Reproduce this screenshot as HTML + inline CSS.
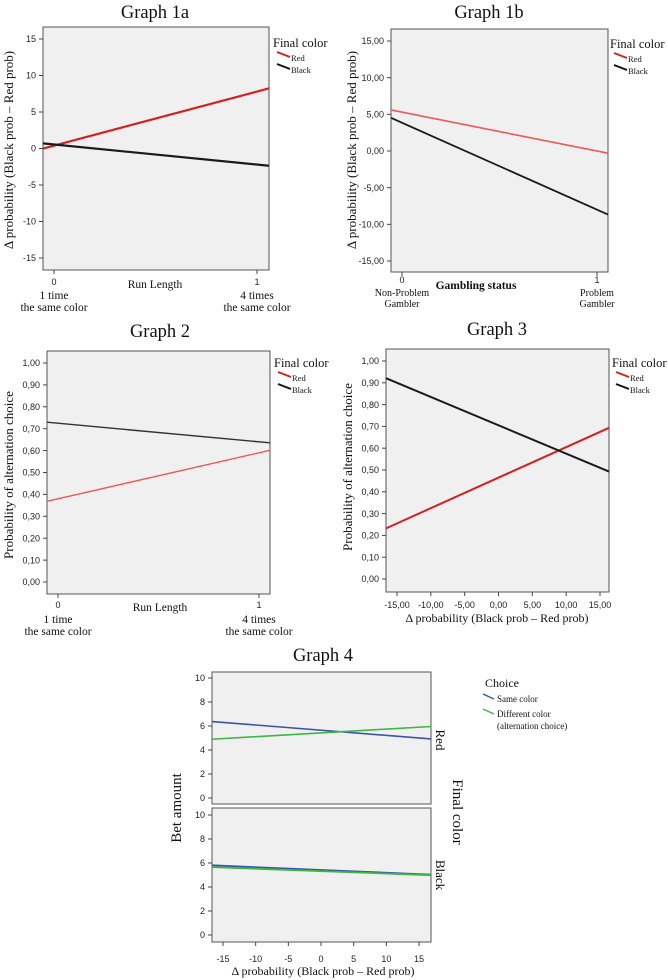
<!DOCTYPE html>
<html><head><meta charset="utf-8"><style>
html,body{margin:0;padding:0;background:#fff;}
svg{display:block;}
.t{font-family:"Liberation Sans",sans-serif;font-size:9px;fill:#222;}
.s{font-family:"Liberation Serif",serif;fill:#111;}
</style></head><body>
<svg id="fig" width="668" height="980" viewBox="0 0 668 980" xmlns="http://www.w3.org/2000/svg"></svg>
<script>
// ---- data ----
const g1aX = [0, 1];
const g1aRed = [0.4, 7.8];
const g1aBlack = [0.55, -2.2];
const g1aYTicks = [-15, -10, -5, 0, 5, 10, 15];
const g1aYLabels = ["-15", "-10", "-5", "0", "5", "10", "15"];

const g1bX = [0, 1];
const g1bRed = [5.3, 0.0];
const g1bBlack = [3.85, -8.0];
const g1bYTicks = [-15, -10, -5, 0, 5, 10, 15];
const g1bYLabels = ["-15,00", "-10,00", "-5,00", "0,00", "5,00", "10,00", "15,00"];

const g2X = [0, 1];
const g2Red = [0.38, 0.59];
const g2Black = [0.725, 0.64];
const g2YTicks = [0, 0.1, 0.2, 0.3, 0.4, 0.5, 0.6, 0.7, 0.8, 0.9, 1.0];
const g2YLabels = ["0,00", "0,10", "0,20", "0,30", "0,40", "0,50", "0,60", "0,70", "0,80", "0,90", "1,00"];

const g3X = [-15, 15];
const g3Red = [0.255, 0.675];
const g3Black = [0.90, 0.51];
const g3XTicks = [-15, -10, -5, 0, 5, 10, 15];
const g3XLabels = ["-15,00", "-10,00", "-5,00", "0,00", "5,00", "10,00", "15,00"];

const g4X = [-15, 15];
const g4RedSame = [6.3, 5.0];
const g4RedDiff = [4.95, 5.9];
const g4BlackSame = [5.77, 5.07];
const g4BlackDiff = [5.62, 5.02];
const g4YTicks = [0, 2, 4, 6, 8, 10];
const g4YLabels = ["0", "2", "4", "6", "8", "10"];
const g4XTicks = [-15, -10, -5, 0, 5, 10, 15];
const g4XLabels = ["-15", "-10", "-5", "0", "5", "10", "15"];

// ---- helpers ----
const NS = "http://www.w3.org/2000/svg";
const svg = document.getElementById("fig");
function mk(tag, attrs, parent) {
  const el = document.createElementNS(NS, tag);
  for (const k in attrs) el.setAttribute(k, attrs[k]);
  (parent || svg).appendChild(el);
  return el;
}
function txt(str, x, y, cls, size, anchor, extra) {
  const el = mk("text", Object.assign({x: x, y: y, class: cls, "font-size": size, "text-anchor": anchor || "start"}, extra || {}));
  el.textContent = str;
  return el;
}
function scale(d0, d1, p0, p1) { return v => p0 + (v - d0) * (p1 - p0) / (d1 - d0); }
function inv(d0, d1, p0, p1) { return p => d0 + (p - p0) * (d1 - d0) / (p1 - p0); }

function panel(name, box, xCal, yCal) {
  const g = mk("g", {});
  
  
  const r = mk("rect", {x: box[0], y: box[1], width: box[2] - box[0], height: box[3] - box[1], fill: "#f0f0f0", stroke: "#555", "stroke-width": 1}, g);
  
  
  const sx = scale(xCal[0], xCal[1], xCal[2], xCal[3]);
  const sy = scale(yCal[0], yCal[1], yCal[2], yCal[3]);
  const ix = inv(xCal[0], xCal[1], xCal[2], xCal[3]);
  return {g: g, box: box, sx: sx, sy: sy, xmin: ix(box[0]), xmax: ix(box[2])};
}
function yTicks(p, ticks, labels, size) {
  ticks.forEach((t, i) => {
    const y = p.sy(t);
    const tk = mk("line", {x1: p.box[0] - 4, x2: p.box[0], y1: y, y2: y, stroke: "#444", "stroke-width": 1}, p.g);
    
    
    const lb = txt(labels[i], p.box[0] - 7, y + 3.2, "t", size || 9, "end");
    
    
  });
}
function xTicks(p, ticks, labels, ly, size) {
  ticks.forEach((t, i) => {
    const x = p.sx(t);
    const tk = mk("line", {x1: x, x2: x, y1: p.box[3], y2: p.box[3] + 4, stroke: "#444", "stroke-width": 1}, p.g);
    
    
    const lb = txt(labels[i], x, ly, "t", size || 9, "middle");
    
    
  });
}
function series(p, xs, ys, color, w, name) {
  const m = (ys[1] - ys[0]) / (xs[1] - xs[0]);
  const f = x => ys[0] + m * (x - xs[0]);
  const l = mk("line", {x1: p.box[0], y1: p.sy(f(p.xmin)), x2: p.box[2], y2: p.sy(f(p.xmax)), stroke: color, "stroke-width": w}, p.g);
  
  
}
function legend(x, y, name) {
  const g = mk("g", {});
  
  
  const t = mk("text", {x: x, y: y, class: "s", "font-size": 12.5}, g); t.textContent = "Final color";
  mk("line", {x1: x + 4, y1: y + 5, x2: x + 17, y2: y + 10, stroke: "#d42020", "stroke-width": 2}, g);
  const r = mk("text", {x: x + 18, y: y + 14, class: "s", "font-size": 8.5}, g); r.textContent = "Red";
  mk("line", {x1: x + 4, y1: y + 17, x2: x + 17, y2: y + 22, stroke: "#111", "stroke-width": 2}, g);
  const b = mk("text", {x: x + 18, y: y + 26, class: "s", "font-size": 8.5}, g); b.textContent = "Black";
}
function ytitle(str, x, y, size, name) {
  const el = txt(str, x, y, "s", size, "middle", {transform: "rotate(-90 " + x + " " + y + ")"});
  
  
}
function label(str, x, y, size, anchor, name, extra) {
  const el = txt(str, x, y, "s", size, anchor, extra);
  
  
}
const RED = "#d42020", RED2 = "#ea5a5a", BLK = "#1a1a1a";

// ---- Graph 1a ----
label("Graph 1a", 155, 18, 18.5, "middle", "graph-1a-title");
const p1a = panel("graph-1a", [43, 27, 269, 270], [0, 1, 54, 257], [15, -15, 39, 258]);
yTicks(p1a, g1aYTicks, g1aYLabels);
xTicks(p1a, g1aX, ["0", "1"], 285);
series(p1a, g1aX, g1aRed, RED, 2.2, "graph-1a-red-line");
series(p1a, g1aX, g1aBlack, BLK, 2.2, "graph-1a-black-line");
legend(273, 47, "graph-1a-legend");
ytitle("Δ probability (Black prob – Red prob)", 13, 150, 13, "graph-1a-y-axis-title");
label("Run Length", 155, 288, 11.5, "middle", "graph-1a-x-axis-title");
label("1 time", 54, 299, 11.5, "middle", "graph-1a-x-label-0a");
label("the same color", 54, 311, 11.5, "middle", "graph-1a-x-label-0b");
label("4 times", 257, 299, 11.5, "middle", "graph-1a-x-label-1a");
label("the same color", 257, 311, 11.5, "middle", "graph-1a-x-label-1b");

// ---- Graph 1b ----
label("Graph 1b", 489, 18, 18.5, "middle", "graph-1b-title");
const p1b = panel("graph-1b", [391, 29, 608, 272], [0, 1, 402, 597], [15, -15, 41, 261]);
yTicks(p1b, g1bYTicks, g1bYLabels);
xTicks(p1b, g1bX, ["0", "1"], 283, 7);
series(p1b, g1bX, g1bRed, RED2, 1.6, "graph-1b-red-line");
series(p1b, g1bX, g1bBlack, BLK, 1.8, "graph-1b-black-line");
legend(610, 48, "graph-1b-legend");
ytitle("Δ probability (Black prob – Red prob)", 356, 150, 13, "graph-1b-y-axis-title");
label("Gambling status", 476, 289, 11.5, "middle", "graph-1b-x-axis-title", {"font-weight": "bold"});
label("Non-Problem", 402, 296, 10, "middle", "graph-1b-x-label-0a");
label("Gambler", 402, 307, 10, "middle", "graph-1b-x-label-0b");
label("Problem", 597, 296, 10, "middle", "graph-1b-x-label-1a");
label("Gambler", 597, 307, 10, "middle", "graph-1b-x-label-1b");

// ---- Graph 2 ----
label("Graph 2", 160, 337, 18.5, "middle", "graph-2-title");
const p2 = panel("graph-2", [47, 351, 270, 594], [0, 1, 58, 259], [1, 0, 363, 582]);
yTicks(p2, g2YTicks, g2YLabels);
xTicks(p2, g2X, ["0", "1"], 608);
series(p2, g2X, g2Red, RED2, 1.4, "graph-2-red-line");
series(p2, g2X, g2Black, "#333", 1.4, "graph-2-black-line");
legend(274, 367, "graph-2-legend");
ytitle("Probability of alternation choice", 13, 475, 13, "graph-2-y-axis-title");
label("Run Length", 160, 611, 11.5, "middle", "graph-2-x-axis-title");
label("1 time", 58, 623, 11.5, "middle", "graph-2-x-label-0a");
label("the same color", 58, 635, 11.5, "middle", "graph-2-x-label-0b");
label("4 times", 259, 623, 11.5, "middle", "graph-2-x-label-1a");
label("the same color", 259, 635, 11.5, "middle", "graph-2-x-label-1b");

// ---- Graph 3 ----
label("Graph 3", 497, 335, 18.5, "middle", "graph-3-title");
const p3 = panel("graph-3", [386, 349, 609, 592], [-15, 15, 397, 600], [1, 0, 361, 579]);
yTicks(p3, g2YTicks, g2YLabels);
xTicks(p3, g3XTicks, g3XLabels, 608);
series(p3, g3X, g3Red, RED, 2, "graph-3-red-line");
series(p3, g3X, g3Black, BLK, 2, "graph-3-black-line");
legend(612, 367, "graph-3-legend");
ytitle("Probability of alternation choice", 352, 467, 13, "graph-3-y-axis-title");
label("Δ probability (Black prob – Red prob)", 497, 622, 12, "middle", "graph-3-x-axis-title");

// ---- Graph 4 ----
label("Graph 4", 323, 661, 18.5, "middle", "graph-4-title");
const p4a = panel("graph-4-red-panel", [212, 672, 431, 804], [-15, 15, 223, 419], [10, 0, 678, 798]);
yTicks(p4a, g4YTicks, g4YLabels);
series(p4a, g4X, g4RedSame, "#3d55a8", 1.6, "graph-4-red-same-color-line");
series(p4a, g4X, g4RedDiff, "#3cb843", 1.6, "graph-4-red-different-color-line");
const p4b = panel("graph-4-black-panel", [212, 808, 431, 942], [-15, 15, 223, 419], [10, 0, 815, 935]);
yTicks(p4b, g4YTicks, g4YLabels);
xTicks(p4b, g4XTicks, g4XLabels, 962);
series(p4b, g4X, g4BlackSame, "#3d55a8", 1.8, "graph-4-black-same-color-line");
series(p4b, g4X, g4BlackDiff, "#3cb843", 1.8, "graph-4-black-different-color-line");
ytitle("Bet amount", 181, 808, 15, "graph-4-y-axis-title");
label("Δ probability (Black prob – Red prob)", 323, 975, 12, "middle", "graph-4-x-axis-title");
label("Red", 436, 740, 13, "middle", "graph-4-facet-red", {transform: "rotate(90 436 740)"});
label("Black", 436, 875, 13, "middle", "graph-4-facet-black", {transform: "rotate(90 436 875)"});
label("Final color", 453, 812, 15, "middle", "graph-4-facet-title", {transform: "rotate(90 453 812)"});
(function () {
  const g = mk("g", {});
  
  
  const c = mk("text", {x: 485, y: 687, class: "s", "font-size": 12}, g); c.textContent = "Choice";
  mk("line", {x1: 483, y1: 694, x2: 494, y2: 699, stroke: "#3d55a8", "stroke-width": 1.5}, g);
  const a = mk("text", {x: 497, y: 702, class: "s", "font-size": 9}, g); a.textContent = "Same color";
  mk("line", {x1: 483, y1: 709, x2: 494, y2: 714, stroke: "#3cb843", "stroke-width": 1.5}, g);
  const b = mk("text", {x: 497, y: 717, class: "s", "font-size": 9}, g); b.textContent = "Different color";
  const d = mk("text", {x: 497, y: 729, class: "s", "font-size": 9}, g); d.textContent = "(alternation choice)";
})();
</script>
</body></html>
